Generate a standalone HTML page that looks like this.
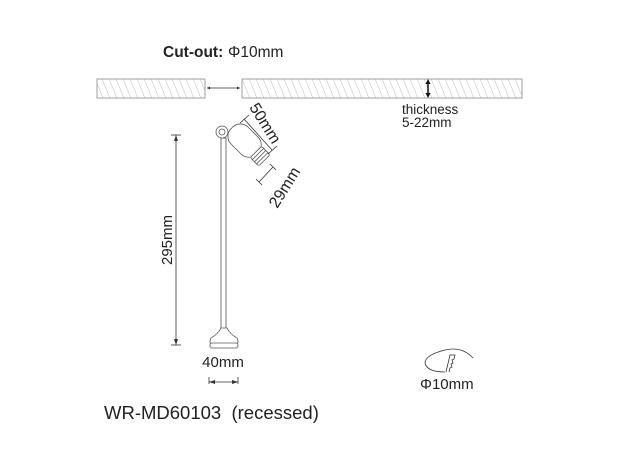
<!DOCTYPE html>
<html><head><meta charset="utf-8"><style>
html,body{margin:0;padding:0;background:#fff;}
svg{display:block;font-family:"Liberation Sans",Arial,sans-serif;}
</style></head><body>
<svg width="620" height="458" viewBox="0 0 620 458" xmlns="http://www.w3.org/2000/svg">
<defs>
<pattern id="h" width="7" height="20" patternUnits="userSpaceOnUse" patternTransform="skewX(22)">
<line x1="0" y1="0" x2="0" y2="20" stroke="#999" stroke-width="0.7"/>
</pattern>
</defs>
<rect width="620" height="458" fill="#fff"/>
<text x="163" y="57" font-size="15.5" font-weight="bold" fill="#222">Cut-out:</text>
<text x="228" y="57" font-size="15.5" fill="#222">Φ10mm</text>
<rect x="97" y="79" width="108" height="19" fill="url(#h)" stroke="#888" stroke-width="0.8"/>
<rect x="242" y="79" width="280" height="19" fill="url(#h)" stroke="#888" stroke-width="0.8"/>
<line x1="207" y1="88" x2="240" y2="88" stroke="#333" stroke-width="0.7"/>
<path d="M207 88 l3 -1.5 v3z M240 88 l-3 -1.5 v3z" fill="#333"/>
<line x1="428" y1="81" x2="428" y2="96" stroke="#111" stroke-width="1.5"/>
<path d="M428 79 l-2.5 5 h5z M428 98 l-2.5 -5 h5z" fill="#111"/>
<text x="402" y="114" font-size="13.5" fill="#222">thickness</text>
<text x="402" y="127" font-size="13.5" fill="#222">5-22mm</text>
<g fill="#fff" stroke="#555" stroke-width="0.8">
<rect x="221" y="138" width="5" height="192"/>
<path d="M221 328 Q218 334 211 338 Q209 342 211 345 L237 345 Q239 342 237 338 Q230 334 227 328z"/>
<rect x="210" y="343" width="28" height="5" rx="2"/>
<g transform="rotate(45 246 142)">
<rect x="226" y="130" width="36" height="24" rx="11"/>
<rect x="260" y="134" width="12" height="16" rx="2"/>
<line x1="263" y1="134" x2="263" y2="150"/><line x1="266" y1="134" x2="266" y2="150"/><line x1="269" y1="134" x2="269" y2="150"/>
</g>
<circle cx="222" cy="132" r="6"/>
<circle cx="222" cy="132" r="3"/>
</g>
<line x1="244" y1="119" x2="272" y2="150" stroke="#333" stroke-width="0.8"/>
<line x1="240" y1="123" x2="249" y2="115" stroke="#333" stroke-width="0.8"/>
<line x1="268" y1="154" x2="277" y2="146" stroke="#333" stroke-width="0.8"/>
<text x="264" y="128" font-size="16" fill="#222" text-anchor="middle" transform="rotate(58 264 124)">50mm</text>
<line x1="259" y1="182" x2="273" y2="167" stroke="#333" stroke-width="0.8"/>
<line x1="256" y1="179" x2="262" y2="185" stroke="#333" stroke-width="0.8"/>
<line x1="270" y1="164" x2="276" y2="170" stroke="#333" stroke-width="0.8"/>
<text x="284" y="193" font-size="16" fill="#222" text-anchor="middle" transform="rotate(-58 284 187)">29mm</text>
<line x1="176" y1="135" x2="176" y2="345" stroke="#333" stroke-width="0.8"/>
<line x1="171" y1="135" x2="181" y2="135" stroke="#333" stroke-width="0.8"/>
<line x1="171" y1="345" x2="181" y2="345" stroke="#333" stroke-width="0.8"/>
<path d="M176 135 l-2 6 h4z M176 345 l-2 -6 h4z" fill="#333"/>
<text x="167" y="245" font-size="15" fill="#222" text-anchor="middle" transform="rotate(-90 167 240)">295mm</text>
<text x="223" y="367" font-size="15" fill="#222" text-anchor="middle">40mm</text>
<line x1="209" y1="382" x2="238" y2="382" stroke="#333" stroke-width="0.8"/>
<line x1="209" y1="377" x2="209" y2="384" stroke="#333" stroke-width="0.8"/>
<line x1="238" y1="377" x2="238" y2="384" stroke="#333" stroke-width="0.8"/>
<path d="M209 382 l6 -2 v4z M238 382 l-6 -2 v4z" fill="#333"/>
<path d="M473 358 Q462 346 445 350 Q425 355 425 363 Q427 372 445 372" fill="none" stroke="#333" stroke-width="0.8"/>
<path d="M446 372 L450 355 L455 355 L454 359 L452 360 L453 363 L451 364 L452 367 L450 368 L449 372" fill="none" stroke="#333" stroke-width="0.8"/>
<text x="420" y="389" font-size="15" fill="#222">Φ10mm</text>
<text x="104" y="419" font-size="18.5" fill="#222" xml:space="preserve">WR-MD60103  (recessed)</text>
</svg>
</body></html>
